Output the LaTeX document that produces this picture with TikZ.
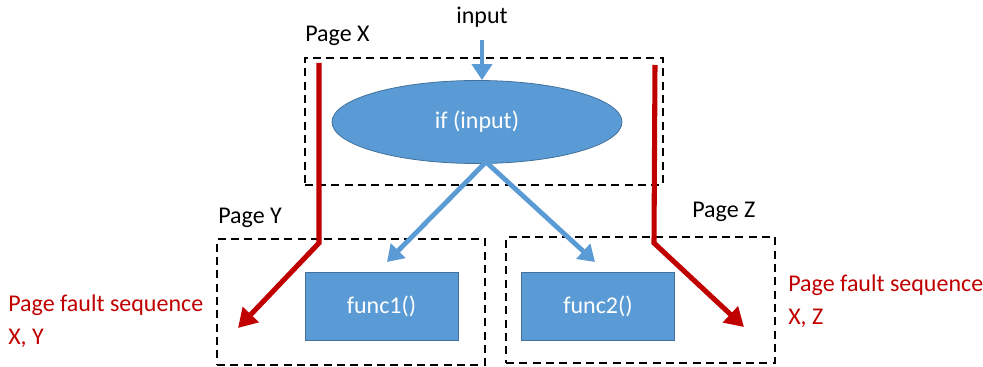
\documentclass[tikz,border=0pt]{standalone}
\usepackage{fontspec}
\setmainfont{Carlito}
\usetikzlibrary{arrows.meta,positioning,shapes.geometric}

\definecolor{fillblue}{HTML}{5B9BD5}
\definecolor{edgeblue}{HTML}{41719C}
\definecolor{faultred}{HTML}{C00000}

\begin{document}
\begin{tikzpicture}[x=0.75pt,y=-0.75pt,font=\fontsize{18}{24.5}\selectfont,
        pagebox/.style={draw,dashed,line width=1.5pt,dash pattern=on 6pt off 4pt,
                        inner sep=0pt},
        funcbox/.style={draw=edgeblue,fill=fillblue,text=white,line width=0.6pt,
                        minimum width=114.75pt,minimum height=51pt},
        flow/.style={draw=fillblue,line width=3.6pt,
                     -{Triangle[length=12pt,width=15pt]}},
        fault/.style={draw=faultred,line width=3.8pt,
                      -{Triangle[length=14pt,width=16pt]}},
        faultnote/.style={text=faultred,align=left,anchor=west,inner sep=0pt}]
        \useasboundingbox (0,0) rectangle (983,367);

        % pages
        \node[pagebox,minimum width=268.5pt,minimum height=95.25pt] (pagex) at (483.5,121.5) {};
        \node[pagebox,minimum width=201pt,minimum height=94.5pt] (pagey) at (351,302) {};
        \node[pagebox,minimum width=201.75pt,minimum height=94.5pt] (pagez) at (640.5,300) {};
        \node[anchor=west,inner sep=0pt] (pagexlbl) at (305,36) {Page X};
        \node[anchor=west,inner sep=0pt] (pageylbl) at (218,218) {Page Y};
        \node[anchor=west,inner sep=0pt] (pagezlbl) at (692,212) {Page Z};

        % code
        \node[ellipse,draw=edgeblue,fill=fillblue,text=white,line width=0.6pt,
              minimum width=217.5pt,minimum height=62.25pt] (cond) at (477,122) {if (input)};
        \node[funcbox] (func1) at (381.5,306) {func1()};
        \node[funcbox] (func2) at (598,306.5) {func2()};
        \node[inner sep=0pt] (input) at (482,17) {input};

        \coordinate (inputtop) at (482,40);
        \coordinate (call1) at (387,262);
        \coordinate (call2) at (595,262);
        \draw[flow] (inputtop) -- (cond.north -| inputtop);
        \draw[flow] (486,162) -- (call1);
        \draw[flow] (486,162) -- (call2);

        % page fault paths
        \coordinate (yfrom) at (319,63);
        \coordinate (ybend) at (319,243);
        \coordinate (yto) at (238,328);
        \coordinate (zfrom) at (655,65);
        \coordinate (zbend) at (654,243);
        \coordinate (zto) at (744,327);
        \draw[fault] (yfrom) -- (ybend) -- (yto);
        \draw[fault] (zfrom) -- (zbend) -- (zto);

        \node[faultnote] (seqy) at (8,321) {Page fault sequence\\X, Y};
        \node[faultnote] (seqz) at (788,301) {Page fault sequence\\X, Z};
    \end{tikzpicture}
\end{document}
